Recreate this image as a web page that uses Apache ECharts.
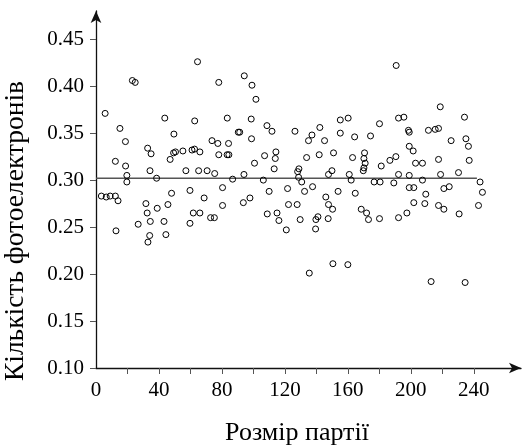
<!DOCTYPE html>
<html>
<head>
<meta charset="utf-8">
<script src="https://cdn.jsdelivr.net/npm/echarts@6/dist/echarts.min.js"></script>
<style>
html,body{margin:0;padding:0;background:#fff;}
#chart{width:527px;height:447px;}
</style>
</head>
<body>
<div id="chart"></div>
<script>
// Batch size (x) and number of photoelectrons (y)
const batchSize = [3.4,5.8,6.5,9,12.3,12.3,12.7,14,15.2,18.7,18.8,19.6,19.6,23.1,24.9,26.8,31.7,32.5,32.8,33,34.1,34.3,34.5,35,38.5,38.9,43.2,43.7,44.4,45.7,47.1,48,49.3,49.5,50.5,55.2,57.1,59.7,59.7,61,61.8,62.6,62.7,64.5,65.2,66,66,68.7,70.6,72.8,73.7,75.2,75.4,77.4,78,78,80.4,80.4,83.3,83.4,84.2,84.4,86.8,90.4,91.3,93.6,94,94.2,97.8,98.6,98.8,99.1,100.7,101.6,106.3,107.1,108.6,108.8,110,111.8,113.2,113.9,114.3,115,116.2,120.9,121.7,122.3,126.4,127.8,128.1,128.7,128.9,129.7,130.7,132.5,133.8,135,135.5,137.2,137.6,139.5,139.7,141,141.8,142.2,145.2,146,147.5,147.7,147.7,149.9,150.3,150.5,150.9,153.8,155.2,155.2,160,160.2,160.9,162.1,163,164.3,164.7,168.5,169.8,170.2,170.2,170.6,171,171.9,173.1,174.4,176.7,180.1,180.1,180.5,181.2,186.7,189.2,190.5,190.7,192.2,192.2,192.2,195.6,197.5,198.5,199,199,199,199,201.5,201.9,201.9,203,207.4,207.4,208.9,209.5,211.2,212.9,215.5,217.6,217.6,217.6,218.7,218.9,221,221,224.4,225.6,230.3,230.7,234.1,234.5,235,236.6,237.1,243,244,245.5];
const photoelectrons = [0.283,0.371,0.282,0.283,0.283,0.320,0.246,0.278,0.355,0.341,0.315,0.305,0.298,0.406,0.404,0.253,0.275,0.265,0.334,0.234,0.241,0.310,0.256,0.328,0.302,0.270,0.256,0.366,0.242,0.274,0.322,0.286,0.329,0.349,0.330,0.331,0.310,0.289,0.254,0.332,0.265,0.333,0.363,0.426,0.310,0.330,0.265,0.281,0.310,0.260,0.342,0.260,0.307,0.339,0.327,0.404,0.292,0.273,0.327,0.366,0.339,0.327,0.301,0.351,0.351,0.276,0.306,0.411,0.281,0.365,0.344,0.401,0.318,0.386,0.300,0.326,0.358,0.264,0.288,0.352,0.312,0.323,0.330,0.265,0.257,0.247,0.291,0.274,0.352,0.274,0.309,0.303,0.312,0.258,0.298,0.288,0.324,0.342,0.201,0.348,0.293,0.248,0.258,0.261,0.327,0.356,0.342,0.282,0.259,0.274,0.306,0.310,0.269,0.211,0.329,0.288,0.364,0.350,0.210,0.366,0.306,0.300,0.324,0.346,0.286,0.269,0.310,0.313,0.323,0.329,0.318,0.265,0.258,0.347,0.298,0.360,0.259,0.298,0.315,0.321,0.297,0.325,0.422,0.366,0.306,0.260,0.367,0.265,0.353,0.351,0.336,0.305,0.292,0.331,0.292,0.276,0.318,0.318,0.300,0.275,0.285,0.353,0.192,0.354,0.355,0.322,0.273,0.378,0.306,0.291,0.269,0.293,0.342,0.308,0.264,0.367,0.191,0.344,0.336,0.321,0.273,0.298,0.287];
// Mean level line
const meanValue = 0.302;
const meanLineFrom = 0;
const meanLineTo = 242;
// Tick labels
const xTickLabels = [0,40,80,120,160,200,240];
const xMinorTicks = [20,40,60,80,100,120,140,160,180,200,220,240];
const yTickLabels = [0.10,0.15,0.20,0.25,0.30,0.35,0.40,0.45];
const xTitle = 'Розмір партії';
const yTitle = 'Кількість фотоелектронів';

const FONT = '"Liberation Serif","Times New Roman",serif';
const points = batchSize.map((x, i) => [x, photoelectrons[i]]);

const chart = echarts.init(document.getElementById('chart'), null, {renderer: 'canvas'});
chart.setOption({
  animation: false,
  backgroundColor: '#fff',
  grid: {left: 96, right: 6, top: 11, bottom: 79},
  xAxis: {
    type: 'value', min: 0, max: 270,
    splitLine: {show: false},
    axisLine: {show: true, lineStyle: {color: '#111', width: 1.3}, symbol: ['none', 'arrow'], symbolSize: [8, 12]},
    axisTick: {show: true, length: 6, lineStyle: {color: '#555', width: 1}, customValues: xMinorTicks},
    axisLabel: {customValues: xTickLabels, color: '#000', fontFamily: FONT, fontSize: 21, margin: 12}
  },
  yAxis: {
    type: 'value', min: 0.10, max: 0.48,
    splitLine: {show: false},
    axisLine: {show: true, lineStyle: {color: '#111', width: 1.3}, symbol: ['none', 'arrow'], symbolSize: [8, 12]},
    axisTick: {show: true, length: 6, lineStyle: {color: '#555', width: 1}, customValues: yTickLabels},
    axisLabel: {customValues: yTickLabels, color: '#000', fontFamily: FONT, fontSize: 21, margin: 12,
      formatter: v => v.toFixed(2)}
  },
  graphic: [
    {type: 'text', x: 297, y: 433, style: {text: xTitle, font: '26px ' + FONT, fill: '#000', align: 'center', verticalAlign: 'middle'}},
    {type: 'text', rotation: Math.PI / 2, x: 16, y: 231, style: {text: yTitle, font: '27.5px ' + FONT, fill: '#000', align: 'center', verticalAlign: 'middle'}}
  ],
  series: [
    {
      type: 'line',
      data: [[meanLineFrom, meanValue], [meanLineTo, meanValue]],
      symbol: 'none',
      lineStyle: {color: '#555', width: 1.5},
      silent: true,
      z: 1
    },
    {
      type: 'scatter',
      data: points,
      symbol: 'circle',
      symbolSize: 6,
      itemStyle: {color: 'rgba(0,0,0,0)', borderColor: '#000', borderWidth: 1, opacity: 1},
      z: 2
    }
  ]
});
</script>
</body>
</html>
